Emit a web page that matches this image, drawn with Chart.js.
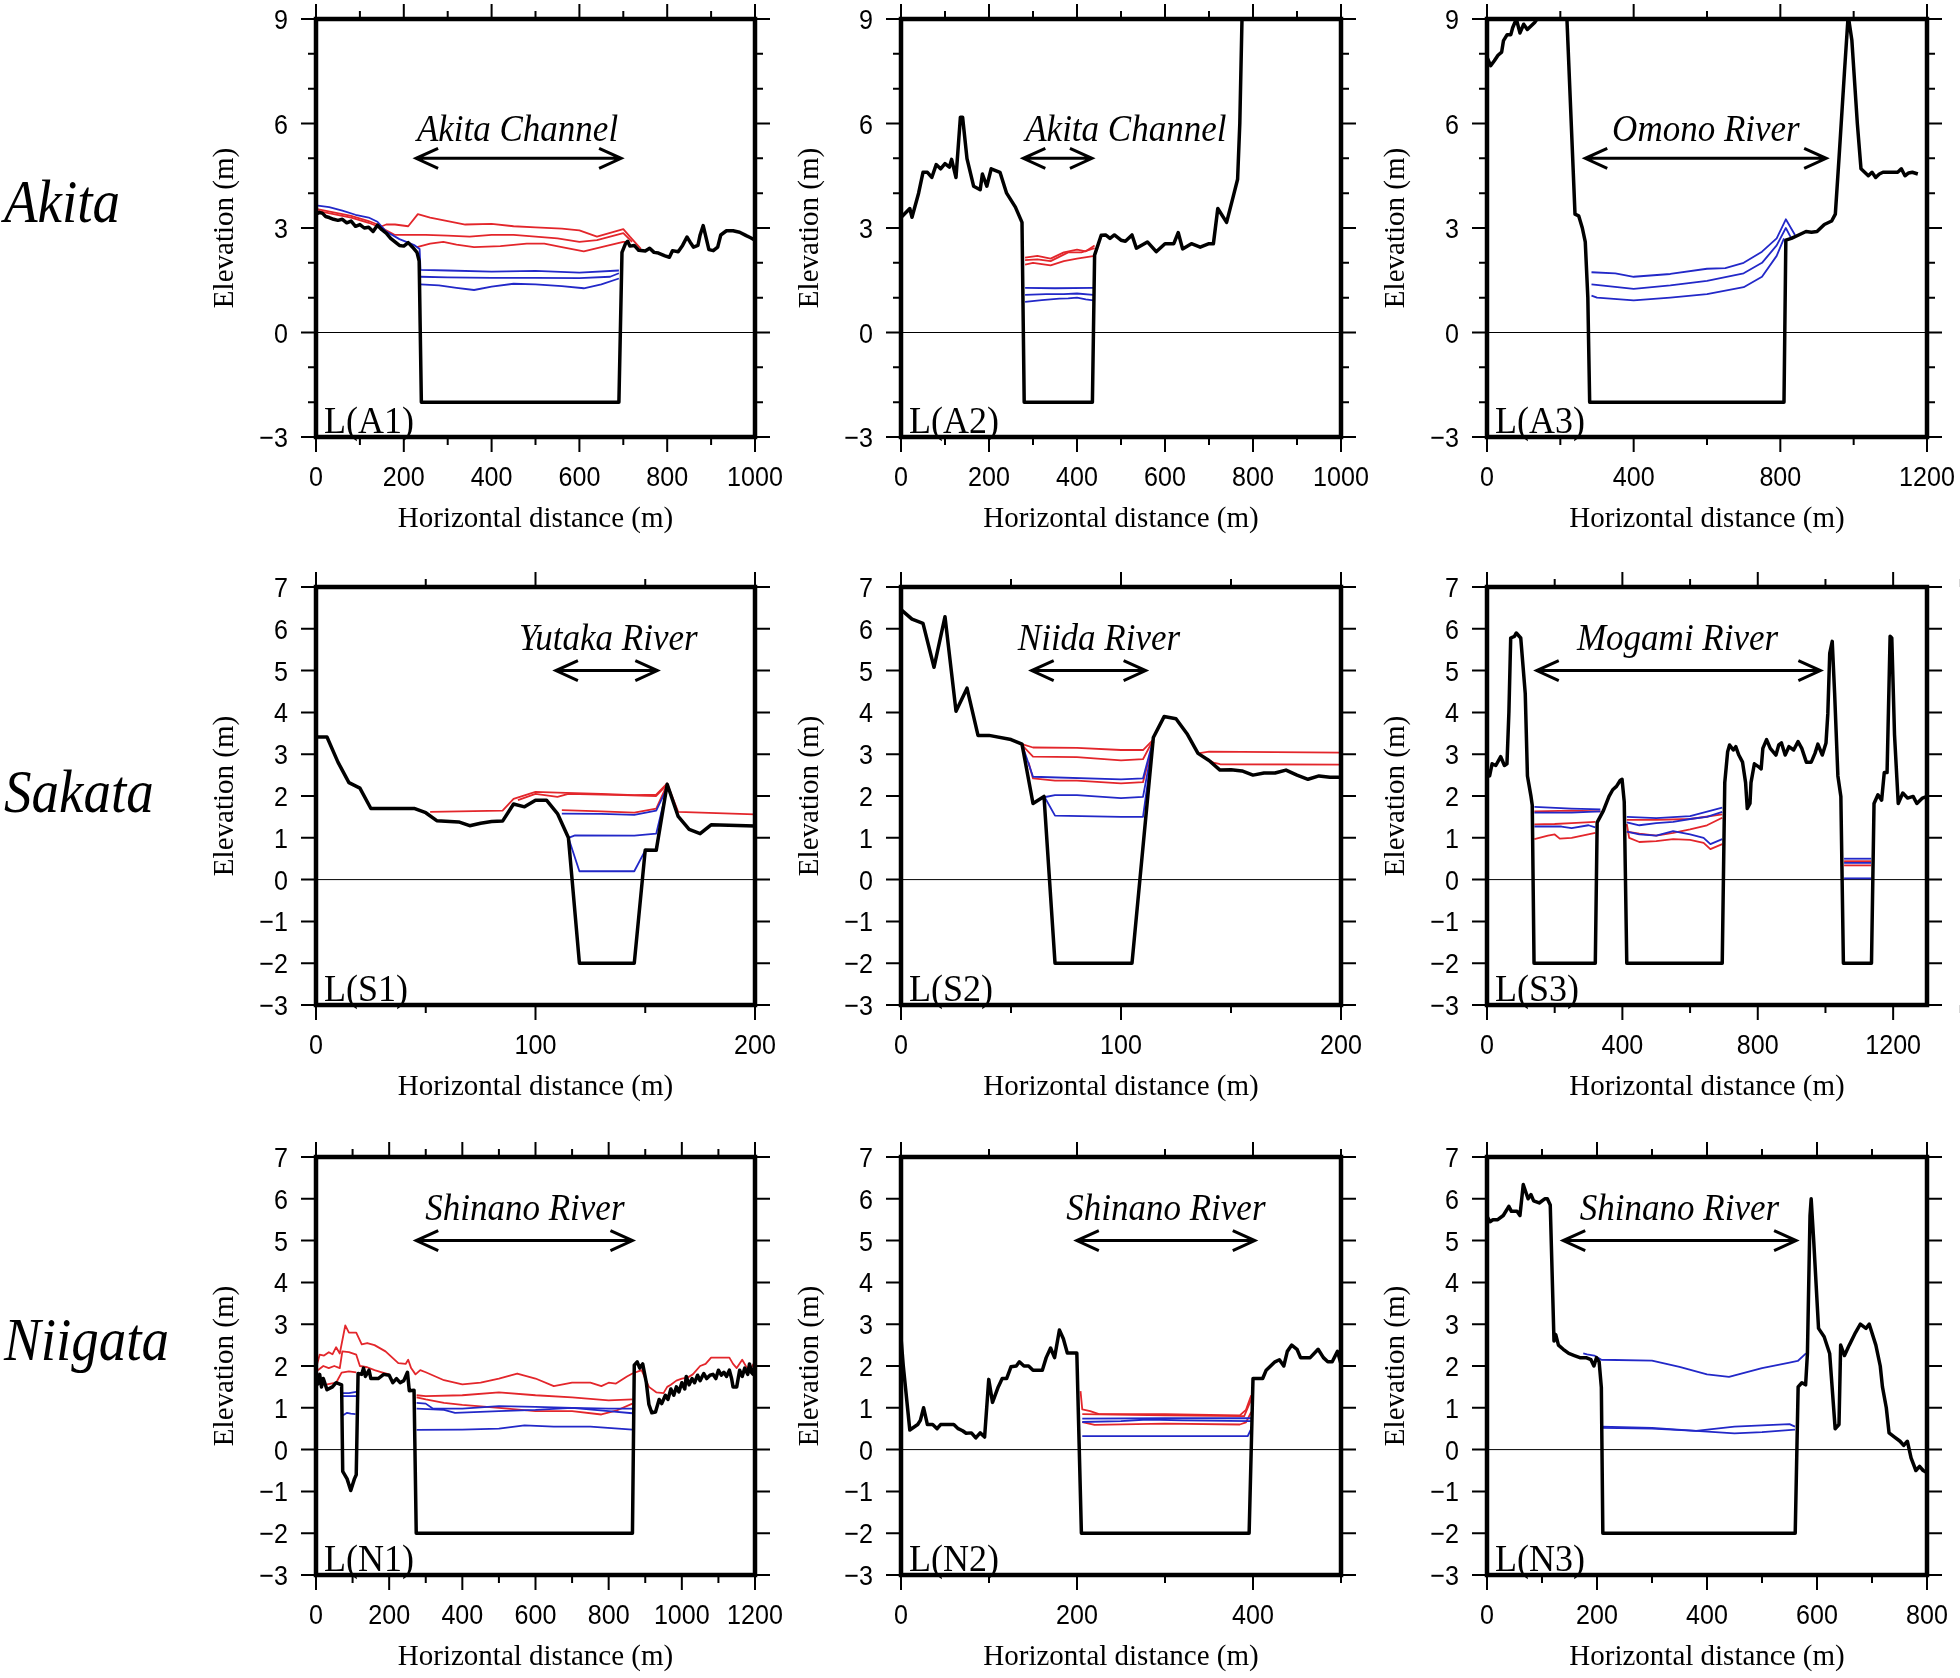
<!DOCTYPE html>
<html>
<head>
<meta charset="utf-8">
<script src="https://cdn.jsdelivr.net/npm/chart.js@4.4.1/dist/chart.umd.min.js"></script>
<style>
  html, body { margin: 0; padding: 0; background: #fff; }
  body { width: 1960px; height: 1678px; position: relative; overflow: hidden; }
  canvas { position: absolute; }
  .region {
    position: absolute; left: 4px;
    font: italic 55px "Liberation Serif", "Times New Roman", serif;
    line-height: 55px; white-space: nowrap;
    transform: scaleY(1.1); transform-origin: 0 46px;
  }
</style>
</head>
<body>
<script>
// ===== Values =====
// flat pairs: distance (m), elevation (m)

const a1Ground = [0,3.4, 8,3.45, 15,3.42, 22,3.33, 30,3.3, 40,3.25, 50,3.22, 60,3.25, 70,3.15, 80,3.2, 90,3.05, 100,3.1, 110,3.0, 120,3.02, 130,2.9, 140,3.08, 150,2.95, 160,2.85, 170,2.7, 180,2.6, 190,2.5, 200,2.48, 210,2.58, 220,2.45, 230,2.3, 235,2.05, 240,-2, 690,-2, 697,2.3, 705,2.55, 710,2.62, 715,2.48, 725,2.5, 735,2.36, 750,2.34, 760,2.42, 770,2.3, 780,2.28, 795,2.2, 805,2.16, 812,2.35, 825,2.32, 835,2.5, 845,2.74, 852,2.6, 860,2.45, 870,2.5, 875,2.8, 882,3.07, 888,2.75, 895,2.38, 905,2.35, 915,2.45, 922,2.8, 935,2.92, 950,2.92, 965,2.88, 980,2.78, 990,2.72, 1000,2.65];
const a1Red = [
  [0,3.55, 40,3.45, 80,3.35, 120,3.2, 150,3.05, 160,3.1, 180,3.1, 210,3.05, 232,3.4, 260,3.3, 300,3.2, 340,3.1, 400,3.12, 450,3.05, 500,3.02, 560,2.98, 600,2.93, 640,2.75, 700,2.97, 715,2.75, 740,2.4],
  [0,3.5, 40,3.4, 80,3.3, 120,3.15, 150,3.0, 180,2.8, 250,2.8, 300,2.78, 350,2.75, 400,2.8, 450,2.8, 500,2.75, 550,2.7, 600,2.6, 640,2.65, 700,2.85, 720,2.6],
  [230,2.45, 260,2.55, 290,2.6, 320,2.52, 360,2.45, 420,2.48, 480,2.55, 520,2.55, 560,2.45, 610,2.33, 650,2.45, 700,2.6, 712,2.6]
];
const a1Blue = [
  [0,3.65, 30,3.6, 60,3.5, 90,3.38, 120,3.3, 140,3.18, 160,2.9, 190,2.68, 210,2.58, 225,2.5, 236,2.4, 238,1.8, 300,1.78, 400,1.75, 500,1.77, 600,1.72, 690,1.78],
  [238,1.6, 300,1.58, 400,1.57, 500,1.57, 600,1.56, 670,1.6, 690,1.7],
  [238,1.38, 280,1.35, 320,1.28, 360,1.22, 400,1.32, 450,1.4, 500,1.38, 560,1.33, 610,1.27, 650,1.38, 690,1.55]
];

const a2Ground = [0,3.3, 20,3.56, 25,3.31, 40,4.0, 50,4.6, 60,4.6, 70,4.45, 80,4.82, 90,4.7, 100,4.85, 110,4.75, 115,4.97, 125,4.45, 135,6.18, 140,6.18, 150,4.99, 165,4.2, 180,4.1, 185,4.55, 195,4.2, 205,4.7, 215,4.65, 225,4.6, 240,4.0, 260,3.6, 275,3.16, 280,-2, 435,-2, 440,2.22, 455,2.79, 465,2.8, 475,2.7, 485,2.8, 500,2.65, 510,2.62, 525,2.8, 535,2.42, 560,2.6, 580,2.32, 600,2.55, 620,2.55, 630,2.87, 640,2.4, 660,2.55, 680,2.45, 700,2.55, 710,2.55, 720,3.56, 740,3.16, 755,3.9, 765,4.4, 770,6.0, 775,9.0, 778,9.6];
const a2Red = [
  [282,2.15, 310,2.2, 340,2.12, 370,2.3, 400,2.38, 420,2.33, 440,2.5],
  [282,2.08, 310,2.1, 340,2.05, 380,2.3, 410,2.3, 440,2.42],
  [282,1.95, 300,2.0, 340,1.93, 370,2.05, 400,2.12, 440,2.2]
];
const a2Blue = [
  [282,1.28, 350,1.27, 437,1.28],
  [282,1.08, 330,1.1, 370,1.1, 400,1.12, 437,1.08],
  [282,0.88, 320,0.93, 360,0.97, 380,0.98, 400,1.0, 420,0.95, 437,0.92]
];

const a3Ground = [0,7.9, 10,7.66, 20,7.8, 30,7.96, 40,8.05, 45,8.38, 55,8.55, 65,8.55, 70,8.75, 80,9.0, 90,8.6, 100,8.85, 110,8.7, 120,8.8, 130,8.9, 140,9.05, 150,9.3, 210,9.3, 218,9.0, 240,3.4, 250,3.35, 260,3.0, 268,2.6, 275,1.0, 280,-2, 810,-2, 815,2.65, 830,2.7, 850,2.8, 870,2.9, 885,2.88, 900,2.9, 920,3.1, 940,3.2, 950,3.4, 960,5.0, 975,7.5, 985,9.1, 995,8.4, 1010,6.0, 1020,4.7, 1030,4.6, 1040,4.5, 1050,4.6, 1060,4.45, 1070,4.55, 1080,4.6, 1100,4.6, 1120,4.6, 1130,4.7, 1140,4.5, 1150,4.58, 1160,4.6, 1175,4.55];
const a3Red = [];
const a3Blue = [
  [285,1.73, 350,1.7, 400,1.6, 500,1.68, 600,1.83, 650,1.85, 700,2.0, 750,2.32, 790,2.7, 815,3.25, 840,2.8],
  [285,1.38, 400,1.25, 500,1.35, 600,1.48, 700,1.7, 750,2.0, 790,2.5, 815,3.0, 830,2.7],
  [285,1.06, 300,1.0, 400,0.92, 500,1.0, 600,1.1, 700,1.3, 750,1.6, 790,2.2, 810,2.7]
];

const s1Ground = [0,3.41, 5,3.41, 10,2.81, 15,2.32, 20,2.19, 25,1.7, 45,1.7, 50,1.6, 55,1.41, 65,1.38, 70,1.29, 75,1.35, 80,1.39, 85,1.4, 90,1.81, 95,1.74, 100,1.9, 105,1.9, 110,1.58, 115,1.0, 120,-2, 145,-2, 150,0.71, 155,0.7, 160,2.28, 165,1.51, 170,1.2, 175,1.1, 180,1.31, 200,1.28];
const s1Red = [
  [52,1.62, 85,1.65, 90,1.93, 100,2.1, 110,2.08, 130,2.05, 145,2.02, 155,2.03, 160,2.3, 165,1.62, 200,1.56],
  [92,1.9, 100,2.05, 110,1.98, 115,2.05, 140,2.02, 155,2.0, 160,2.28],
  [112,1.66, 130,1.63, 145,1.6, 155,1.7, 160,2.28]
];
const s1Blue = [
  [112,1.58, 130,1.57, 145,1.55, 155,1.65, 160,2.2],
  [115,1.0, 118,1.06, 145,1.05, 155,1.1, 160,2.2],
  [115,1.0, 120,0.2, 145,0.2, 150,0.7]
];

const s2Ground = [0,6.46, 5,6.23, 10,6.13, 15,5.08, 20,6.29, 25,4.03, 30,4.58, 35,3.45, 40,3.45, 50,3.35, 55,3.24, 60,1.82, 65,1.99, 70,-2, 105,-2, 114.7,3.4, 119.6,3.9, 125,3.85, 130,3.49, 135,3.02, 140,2.85, 145,2.62, 150,2.63, 155,2.6, 160,2.5, 165,2.55, 170,2.55, 175,2.62, 180,2.5, 185,2.4, 190,2.48, 195,2.45, 200,2.45];
const s2Red = [
  [55,3.24, 60,3.16, 80,3.15, 100,3.1, 110,3.1, 114.7,3.35],
  [55,3.22, 60,2.94, 80,2.93, 100,2.85, 110,2.88, 114.7,3.35],
  [58,2.8, 60,2.42, 70,2.37, 80,2.37, 100,2.3, 110,2.33, 114.7,3.3],
  [135,3.02, 140,3.06, 200,3.04],
  [137,2.95, 142,2.8, 145,2.76, 200,2.75]
];
const s2Blue = [
  [55,3.24, 60,2.46, 100,2.4, 110,2.42, 114.7,3.35],
  [65,1.97, 70,2.02, 80,2.02, 100,1.95, 110,1.98, 114.7,3.3],
  [65,2.0, 70,1.53, 100,1.5, 110,1.5, 114.7,3.3]
];

const s3Ground = [0,2.65, 7.7,2.48, 15,2.77, 26,2.73, 40.5,2.94, 51.5,2.73, 59,2.77, 64.7,4.0, 70,5.78, 81,5.82, 86.6,5.9, 99.7,5.78, 113,4.45, 119.5,2.48, 130,1.99, 133.7,1.78, 139,-2, 320,-2, 325.5,1.37, 344,1.65, 360.5,1.99, 371.5,2.15, 382.5,2.23, 393.4,2.37, 399,2.4, 405.5,1.86, 413,-2, 695,-2, 702.5,2.32, 711,3.06, 716.7,3.22, 727.7,3.1, 735,3.18, 744,2.98, 755,2.81, 764,2.32, 769,1.7, 777,1.82, 780,2.32, 790,2.77, 804,2.69, 810,2.65, 815,3.14, 826,3.35, 837,3.14, 853.7,2.98, 862,3.22, 870,3.27, 881,2.98, 892,3.18, 906,3.1, 919,3.3, 930,3.14, 943.5,2.81, 958,2.81, 969,3.02, 977.5,3.24, 990.7,2.98, 1001.6,3.27, 1007,3.97, 1012.6,5.41, 1020,5.7, 1027,4.47, 1036.7,2.48, 1045.5,1.99, 1053,-2, 1136,-2, 1143.5,1.82, 1155,2.03, 1166,1.9, 1173.7,2.56, 1182,2.56, 1191,5.82, 1196,5.78, 1204,3.47, 1215,1.82, 1228.5,2.07, 1242.7,1.95, 1259,1.99, 1270,1.82, 1286.6,1.95, 1300,1.99];
const s3Red = [
  [140,1.63, 250,1.65, 335,1.63],
  [140,1.32, 200,1.33, 250,1.35, 320,1.38],
  [140,0.97, 180,1.05, 200,1.08, 215,0.98, 250,1.0, 320,1.12],
  [413,1.43, 500,1.43, 600,1.45, 695,1.56],
  [413,1.15, 450,1.1, 500,1.05, 550,1.12, 600,1.2, 650,1.3, 695,1.48],
  [413,1.33, 420,1.0, 450,0.9, 500,0.92, 550,0.97, 600,0.95, 640,0.88, 660,0.73, 695,0.85],
  [1055,0.44, 1135,0.44],
  [1055,0.34, 1135,0.34]
];
const s3Blue = [
  [140,1.74, 250,1.7, 335,1.68],
  [140,1.6, 250,1.6, 335,1.63],
  [140,1.27, 220,1.27, 250,1.23, 300,1.3, 320,1.25],
  [413,1.5, 500,1.47, 600,1.52, 695,1.72],
  [413,1.37, 450,1.3, 500,1.35, 550,1.38, 600,1.45, 650,1.5, 695,1.62],
  [413,1.15, 450,1.08, 500,1.05, 550,1.16, 600,1.08, 640,1.0, 660,0.85, 695,0.97],
  [1055,0.5, 1135,0.5],
  [1055,0.4, 1135,0.4],
  [1055,0.03, 1135,0.03]
];

const n1Ground = [0,1.78, 5,1.57, 10,1.8, 15,1.5, 20,1.7, 30,1.43, 45,1.5, 55,1.6, 70,1.55, 73,-0.52, 85,-0.7, 95,-0.98, 105,-0.7, 110,-0.6, 115,1.82, 125,1.8, 130,1.95, 135,1.75, 145,1.9, 150,1.7, 170,1.7, 185,1.8, 200,1.78, 210,1.6, 220,1.7, 230,1.6, 240,1.65, 250,1.85, 255,1.41, 268,1.42, 274,-2, 865,-2, 870,2.02, 878,2.1, 885,1.95, 893,2.05, 903,1.6, 910,1.08, 918,0.88, 928,0.9, 938,1.2, 945,1.1, 955,1.3, 962,1.2, 970,1.45, 978,1.3, 985,1.5, 992,1.38, 1000,1.6, 1008,1.45, 1012,1.75, 1020,1.55, 1028,1.7, 1035,1.6, 1043,1.78, 1050,1.65, 1060,1.82, 1068,1.7, 1077,1.78, 1085,1.8, 1093,1.7, 1100,1.9, 1108,1.78, 1115,1.85, 1122,1.75, 1130,1.9, 1136,1.7, 1140,1.5, 1150,1.5, 1158,1.9, 1165,1.75, 1172,1.95, 1180,1.8, 1185,2.05, 1190,1.85, 1195,1.8, 1200,2.1];
const n1Red = [
  [0,1.95, 10,2.27, 22,2.25, 35,2.33, 45,2.28, 55,2.45, 65,2.3, 80,2.97, 90,2.8, 110,2.8, 125,2.52, 140,2.55, 160,2.5, 190,2.35, 225,2.07, 245,2.05, 252,2.15, 260,1.95, 272,1.8, 285,1.9, 300,1.85, 350,1.66, 400,1.56, 450,1.6, 500,1.7, 550,1.82, 600,1.7, 650,1.52, 700,1.6, 750,1.6, 780,1.52, 800,1.6, 820,1.58, 850,1.75, 865,1.82, 890,1.9, 910,1.5, 930,1.37, 950,1.35, 960,1.5, 970,1.55, 985,1.65, 1000,1.7, 1015,1.72, 1030,1.8, 1050,2.0, 1065,2.05, 1080,2.2, 1100,2.2, 1130,2.2, 1140,2.05, 1150,1.95, 1165,2.15, 1175,2.0, 1185,1.9, 1200,2.1],
  [5,1.9, 20,2.0, 35,1.95, 50,2.0, 65,1.95, 72,2.35, 90,2.33, 100,2.3, 110,2.27, 120,2.0, 140,1.97, 160,1.9, 180,1.85, 200,1.8],
  [275,1.3, 300,1.28, 400,1.3, 500,1.37, 600,1.3, 700,1.25, 800,1.18, 865,1.2],
  [30,1.56, 55,1.6, 70,1.84, 90,1.87, 110,1.85],
  [275,1.25, 300,1.2, 350,1.12, 400,1.07, 500,1.0, 600,0.92, 700,0.92, 780,0.84, 820,0.93, 865,1.1]
];
const n1Blue = [
  [275,1.12, 300,1.1, 320,0.98, 400,0.98, 500,1.04, 600,1.02, 700,1.0, 800,0.98, 865,0.98],
  [275,0.98, 350,0.95, 380,0.88, 500,0.92, 600,0.95, 700,1.0, 800,0.92, 865,0.87],
  [275,0.47, 400,0.48, 500,0.5, 570,0.58, 650,0.55, 750,0.55, 865,0.48],
  [74,1.35, 90,1.35, 110,1.38],
  [74,1.28, 110,1.28],
  [74,0.82, 85,0.88, 95,0.86, 108,0.85]
];

const n2Ground = [0,2.68, 2.6,2.0, 10,0.47, 19,0.6, 22,0.7, 25.7,1.0, 30,0.6, 36,0.6, 41,0.5, 45,0.6, 55,0.6, 60,0.6, 65,0.5, 70,0.45, 74,0.39, 80,0.4, 85,0.28, 90,0.4, 95,0.3, 99.7,1.68, 104,1.13, 110.5,1.5, 115,1.7, 120,1.7, 125,1.98, 131,2.0, 134.5,2.1, 139.7,2.0, 145,2.0, 150,1.9, 160.6,1.9, 165,2.2, 170,2.43, 174.5,2.2, 180,2.86, 184.5,2.65, 189,2.31, 199.8,2.31, 205,-2, 395.6,-2, 400,1.7, 411,1.7, 415,1.9, 420,2.0, 425,2.1, 430,2.15, 435,2.0, 439,2.35, 444,2.5, 450,2.4, 454,2.2, 465,2.2, 474,2.4, 480,2.2, 485,2.1, 490,2.1, 496,2.35, 500,2.05];
const n2Red = [
  [204,1.4, 206,0.96, 215,0.92, 225,0.85, 300,0.85, 385,0.82, 392,0.95, 398,1.3],
  [206,0.85, 300,0.82, 390,0.8, 398,1.2],
  [206,0.66, 220,0.59, 300,0.62, 385,0.6, 392,0.65, 398,0.9]
];
const n2Blue = [
  [206,0.74, 300,0.75, 398,0.75],
  [206,0.66, 250,0.68, 280,0.72, 320,0.7, 398,0.68],
  [206,0.32, 300,0.32, 394,0.32, 398,0.5]
];

const n3Ground = [0,5.5, 1.3,5.55, 5.4,5.45, 10.8,5.5, 19.5,5.5, 29.6,5.6, 39.7,5.82, 44.4,5.7, 54.5,5.7, 59.9,5.6, 65.9,6.34, 74.7,6.0, 80,6.1, 84.8,5.95, 94.9,5.9, 105,6.0, 109.7,6.0, 115,5.85, 121.8,2.6, 125,2.75, 129.9,2.5, 138.6,2.4, 148.7,2.3, 158.8,2.25, 168.9,2.2, 180,2.2, 189,2.15, 194.4,2.0, 199,2.2, 203.9,2.1, 207.9,1.49, 210.6,-2, 560.4,-2, 565.7,1.5, 572.5,1.6, 579.3,1.55, 582.6,2.3, 587.3,5.6, 589.4,6.0, 594,5.0, 602.8,2.9, 613,2.7, 623,2.3, 633,0.5, 640,0.6, 643,2.5, 650,2.25, 658.7,2.5, 670,2.8, 678.8,3.0, 689,2.9, 695,3.0, 707,2.5, 715,2.0, 719,1.5, 726,1.0, 731,0.4, 741,0.3, 751,0.2, 757.6,0.1, 764.3,0.2, 771,-0.2, 779.8,-0.5, 786.5,-0.4, 793,-0.5, 800,-0.55];
const n3Red = [];
const n3Blue = [
  [175,2.3, 182,2.28, 195,2.25, 208,2.15, 300,2.13, 350,1.98, 400,1.8, 440,1.74, 500,1.95, 550,2.08, 565,2.12, 580,2.3],
  [208,0.55, 300,0.52, 380,0.45, 450,0.55, 500,0.58, 550,0.61, 560,0.55],
  [208,0.52, 300,0.5, 380,0.45, 450,0.39, 500,0.42, 560,0.48]
];

// ===== Axes, tick labels, names, annotations =====
const panelNames = ["L(A1)", "L(A2)", "L(A3)", "L(S1)", "L(S2)", "L(S3)", "L(N1)", "L(N2)", "L(N3)"];
const riverNames = ["Akita Channel", "Akita Channel", "Omono River", "Yutaka River", "Niida River", "Mogami River", "Shinano River", "Shinano River", "Shinano River"];
const xMaxima = [1000, 1000, 1200, 200, 200, 1300, 1200, 500, 800];
const xTickLabels = [
  [0, 200, 400, 600, 800, 1000], [0, 200, 400, 600, 800, 1000], [0, 400, 800, 1200],
  [0, 100, 200], [0, 100, 200], [0, 400, 800, 1200],
  [0, 200, 400, 600, 800, 1000, 1200], [0, 200, 400], [0, 200, 400, 600, 800]
];
const xMinorSteps = [100, 100, 200, 50, 50, 200, 100, 100, 100];
const yMinima = [-3, -3, -3, -3, -3, -3, -3, -3, -3];
const yMaxima = [9, 9, 9, 7, 7, 7, 7, 7, 7];
const yTickLabelsAkita = [-3, 0, 3, 6, 9];
const yTickLabelsOther = [-3, -2, -1, 0, 1, 2, 3, 4, 5, 6, 7];
const yTickLabels = [yTickLabelsAkita, yTickLabelsAkita, yTickLabelsAkita, yTickLabelsOther, yTickLabelsOther, yTickLabelsOther, yTickLabelsOther, yTickLabelsOther, yTickLabelsOther];
const yMinorStep = 1;
const arrowFrom = [228, 278, 268, 109.3, 59.4, 147, 274, 199.8, 138.6];
const arrowTo = [695, 434, 925, 155.5, 111.2, 985, 865, 402, 562];
const nameCentres = [459, 511, 597, 133.2, 90, 563, 571, 301, 350];
const arrowLevel = 5;
const nameLevel = 5.5;
const regionNames = ["Akita", "Sakata", "Niigata"];

const grounds = [a1Ground, a2Ground, a3Ground, s1Ground, s2Ground, s3Ground, n1Ground, n2Ground, n3Ground];
const redSets = [a1Red, a2Red, a3Red, s1Red, s2Red, s3Red, n1Red, n2Red, n3Red];
const blueSets = [a1Blue, a2Blue, a3Blue, s1Blue, s2Blue, s3Blue, n1Blue, n2Blue, n3Blue];

// ===== Page layout =====
const colLefts = [316, 901, 1487];
const colWidths = [439, 440, 440];
const rowTops = [19, 587, 1157];
const plotHeight = 418;
const regionTops = [176, 766, 1314];
const AXIS_W = 130, AXIS_H = 115, PAD_TOP = 20, PAD_RIGHT = 40;

const RED = "#e3262b";
const BLUE = "#2228c8";
const SERIF = '"Liberation Serif", "Times New Roman", serif';
const SANS = '"Liberation Sans", Arial, sans-serif';

function pairs(flat) {
  const out = [];
  for (let i = 0; i < flat.length; i += 2) out.push({ x: flat[i], y: flat[i + 1] });
  return out;
}
function fmt(v) {
  return v < 0 ? "\u2212" + Math.abs(v) : String(v);
}
function drawScaled(ctx, text, x, y, sx, sy) {
  ctx.save();
  ctx.translate(x, y);
  ctx.scale(sx, sy);
  ctx.fillText(text, 0, 0);
  ctx.restore();
}

// frame, outward ticks + labels, zero line, river arrow and panel label
const profileFrame = {
  id: "profileFrame",
  beforeDatasetsDraw(chart) {
    const { ctx, chartArea: a, scales: { y } } = chart;
    const y0 = y.getPixelForValue(0);
    ctx.save();
    ctx.strokeStyle = "#000";
    ctx.lineWidth = 1;
    ctx.beginPath();
    ctx.moveTo(a.left, y0);
    ctx.lineTo(a.right, y0);
    ctx.stroke();
    ctx.restore();
  },
  afterDraw(chart, args, o) {
    const { ctx, chartArea: a, scales: { x, y } } = chart;
    const xLabels = xTickLabels[o.k], yLabels = yTickLabels[o.k];
    ctx.save();
    ctx.strokeStyle = "#000";
    ctx.fillStyle = "#000";

    // tick marks on all four sides
    ctx.lineWidth = 2;
    ctx.beginPath();
    const nx = Math.round(xMaxima[o.k] / xMinorSteps[o.k]);
    for (let i = 0; i <= nx; i++) {
      const v = i * xMinorSteps[o.k];
      const px = x.getPixelForValue(v);
      const len = xLabels.includes(v) ? 15 : 8;
      ctx.moveTo(px, a.bottom); ctx.lineTo(px, a.bottom + len);
      ctx.moveTo(px, a.top); ctx.lineTo(px, a.top - len);
    }
    const ny = Math.round((yMaxima[o.k] - yMinima[o.k]) / yMinorStep);
    for (let i = 0; i <= ny; i++) {
      const v = yMinima[o.k] + i * yMinorStep;
      const py = y.getPixelForValue(v);
      const len = yLabels.includes(v) ? 15 : 8;
      ctx.moveTo(a.left, py); ctx.lineTo(a.left - len, py);
      ctx.moveTo(a.right, py); ctx.lineTo(a.right + len, py);
    }
    ctx.stroke();

    // tick labels
    ctx.font = "27px " + SANS;
    ctx.textBaseline = "alphabetic";
    ctx.textAlign = "center";
    xLabels.forEach((v) => drawScaled(ctx, fmt(v), x.getPixelForValue(v), a.bottom + 49, 0.93, 1));
    ctx.textAlign = "right";
    yLabels.forEach((v) => drawScaled(ctx, fmt(v), a.left - 28, y.getPixelForValue(v) + 10, 0.93, 1.05));

    // thick frame
    ctx.lineWidth = 4.5;
    ctx.lineJoin = "miter";
    ctx.strokeRect(a.left, a.top, a.right - a.left, a.bottom - a.top);

    // double-headed arrow with the river name
    const ya = y.getPixelForValue(arrowLevel);
    const x1 = x.getPixelForValue(arrowFrom[o.k]);
    const x2 = x.getPixelForValue(arrowTo[o.k]);
    ctx.lineWidth = 3;
    ctx.beginPath();
    ctx.moveTo(x1, ya); ctx.lineTo(x2, ya);
    ctx.moveTo(x1 + 22, ya - 10); ctx.lineTo(x1, ya); ctx.lineTo(x1 + 22, ya + 10);
    ctx.moveTo(x2 - 22, ya - 10); ctx.lineTo(x2, ya); ctx.lineTo(x2 - 22, ya + 10);
    ctx.stroke();

    ctx.font = "italic 35px " + SERIF;
    ctx.textAlign = "center";
    drawScaled(ctx, riverNames[o.k], x.getPixelForValue(nameCentres[o.k]), y.getPixelForValue(nameLevel), 1, 1.1);

    ctx.font = "36px " + SERIF;
    ctx.textAlign = "left";
    drawScaled(ctx, panelNames[o.k], a.left + 8, a.bottom - 4, 1, 1.05);
    ctx.restore();
  }
};

// region names at the left
regionNames.forEach((name, r) => {
  const div = document.createElement("div");
  div.className = "region";
  div.style.top = regionTops[r] + "px";
  div.textContent = name;
  document.body.appendChild(div);
});

panelNames.forEach((label, k) => {
  const row = Math.floor(k / 3), col = k % 3;
  const w = colWidths[col];
  const canvas = document.createElement("canvas");
  canvas.width = AXIS_W + w + PAD_RIGHT;
  canvas.height = PAD_TOP + plotHeight + AXIS_H;
  canvas.style.left = (colLefts[col] - AXIS_W) + "px";
  canvas.style.top = (rowTops[row] - PAD_TOP) + "px";
  document.body.appendChild(canvas);

  const datasets = [{ label: "Ground", data: pairs(grounds[k]), borderColor: "#000", borderWidth: 3.5, order: 0 }];
  blueSets[k].forEach((line, i) => datasets.push({ label: "Blue " + (i + 1), data: pairs(line), borderColor: BLUE, borderWidth: 1.8, order: 1 }));
  redSets[k].forEach((line, i) => datasets.push({ label: "Red " + (i + 1), data: pairs(line), borderColor: RED, borderWidth: 1.8, order: 2 }));

  new Chart(canvas.getContext("2d"), {
    type: "line",
    data: { datasets },
    plugins: [profileFrame],
    options: {
      responsive: false,
      animation: false,
      events: [],
      layout: { padding: { top: PAD_TOP, right: PAD_RIGHT, bottom: 0, left: 0 } },
      elements: {
        point: { radius: 0 },
        line: { tension: 0, borderJoinStyle: "round", fill: false }
      },
      plugins: {
        legend: { display: false },
        tooltip: { enabled: false },
        profileFrame: { k }
      },
      scales: {
        x: {
          type: "linear",
          min: 0,
          max: xMaxima[k],
          grid: { display: false, drawTicks: false },
          border: { display: false },
          ticks: { display: false },
          title: {
            display: true,
            text: "Horizontal distance (m)",
            color: "#000",
            font: { family: SERIF, size: 29, lineHeight: 1 },
            padding: { top: 0, bottom: 18.5 }
          },
          afterFit: (scale) => { scale.height = AXIS_H; }
        },
        y: {
          type: "linear",
          min: yMinima[k],
          max: yMaxima[k],
          grid: { display: false, drawTicks: false },
          border: { display: false },
          ticks: { display: false },
          title: {
            display: true,
            text: "Elevation (m)",
            color: "#000",
            font: { family: SERIF, size: 29, lineHeight: 1 },
            padding: { top: 24.5, bottom: 0 }
          },
          afterFit: (scale) => { scale.width = AXIS_W; }
        }
      }
    }
  });
});
</script>
</body>
</html>
